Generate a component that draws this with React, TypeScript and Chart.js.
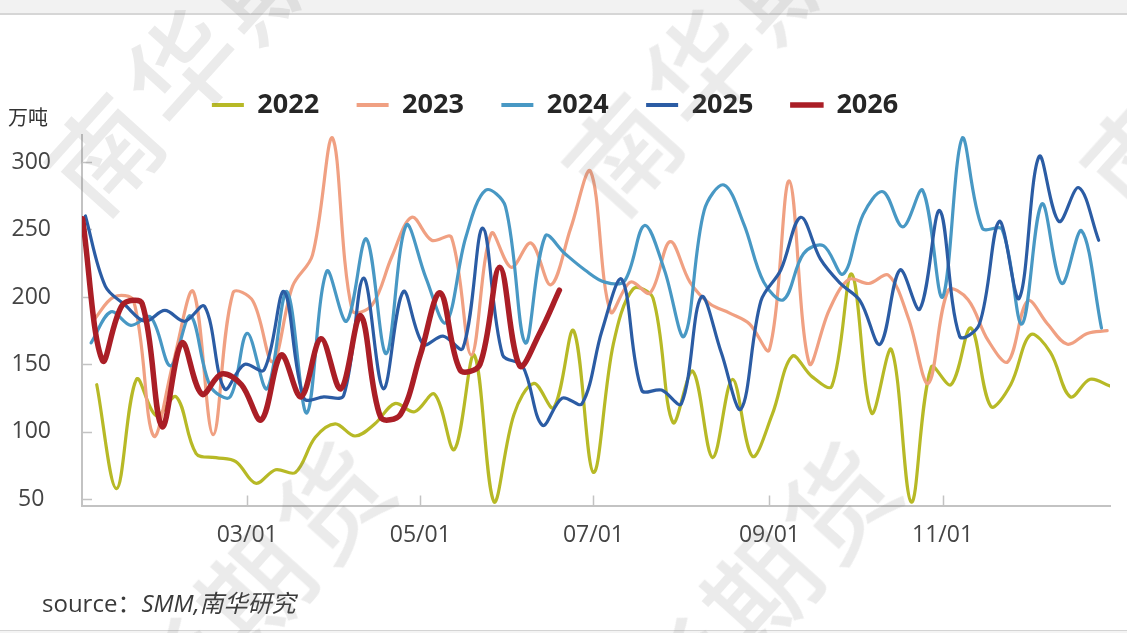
import { useEffect, useRef } from 'react';
import { Chart, registerables } from 'chart.js';

Chart.register(...registerables);

// Weekly output, 万吨, one series per year (first reporting week of each year)
const years = ['2022', '2023', '2024', '2025', '2026'];
const firstWeek = ['2022-01-07', '2023-01-06', '2024-01-05', '2025-01-03', '2026-01-02'];
const colors = ['#B7B926', '#F0A082', '#4898C4', '#2B5CA4', '#AA1E26'];
const lineWidths = [3.2, 3.2, 3.2, 3.2, 5.5];

const v2022 = [135, 58, 139, 112, 126, 84, 81, 78, 62, 72, 70, 96, 106, 97, 106, 121, 115, 128, 87, 157, 48, 113, 136, 118, 175, 70, 165, 206, 199, 107, 145, 81, 139, 82, 113, 156, 141, 134, 217, 114, 161, 48, 148, 135, 177, 119, 135, 172, 159, 126, 139, 134];
const v2023 = [183, 200, 197, 97, 152, 204, 98, 203, 197, 152, 208, 231, 318, 190, 194, 230, 259, 242, 244, 157, 247, 222, 240, 209, 251, 293, 189, 211, 203, 241, 211, 195, 188, 180, 161, 286, 151, 190, 213, 210, 216, 184, 136, 205, 198, 168, 152, 197, 180, 165, 173, 175];
const v2024 = [166, 189, 179, 185, 149, 186, 134, 126, 173, 132, 204, 114, 219, 182, 243, 158, 253, 214, 181, 244, 279, 267, 166, 245, 232, 220, 211, 212, 253, 220, 171, 264, 283, 254, 211, 198, 232, 238, 217, 261, 278, 252, 279, 200, 318, 251, 250, 180, 269, 210, 249, 177];
const v2025 = [260, 208, 194, 182, 190, 182, 193, 132, 150, 146, 204, 125, 126, 127, 214, 132, 204, 165, 171, 162, 251, 157, 149, 105, 125, 121, 175, 213, 131, 131, 121, 200, 159, 117, 197, 220, 259, 228, 210, 197, 165, 220, 191, 264, 171, 180, 256, 199, 304, 256, 281, 242];
const v2026 = [258, 153, 194, 195, 104, 166, 128, 143, 135, 109, 157, 126, 169, 132, 186, 111, 113, 157, 203, 146, 150, 222, 149, 173, 205];
const seriesValues = [v2022, v2023, v2024, v2025, v2026];

const tickLabels = ['03/01', '05/01', '07/01', '09/01', '11/01'];
const yTicks = [50, 100, 150, 200, 250, 300];

const watermarks = [
  { left: 64, top: 136 },
  { left: 582, top: 136 },
  { left: 1100, top: 136 },
  { left: 60, top: 744 },
  { left: 566, top: 744 },
];

// Month/day mapped onto a common non-leap calendar so every year shares one axis
const monthStart = [0, 31, 59, 90, 120, 151, 181, 212, 243, 273, 304, 334];
const calendarDay = (month: number, day: number) => monthStart[month - 1] + day;

function weeklyDays(start: string, count: number): number[] {
  const [y, m, d] = start.split('-').map(Number);
  const out: number[] = [];
  for (let i = 0; i < count; i++) {
    const dt = new Date(y, m - 1, d + 7 * i);
    out.push(calendarDay(dt.getMonth() + 1, dt.getDate()));
  }
  return out;
}

const tickDays = tickLabels.map((s) => {
  const [m, d] = s.split('/').map(Number);
  return calendarDay(m, d);
});

const textFont = "'Open Sans', 'Noto Sans', sans-serif";
const axisColor = '#c3c3c3';

const inwardTicks = {
  id: 'inwardTicks',
  beforeDatasetsDraw(chart: any) {
    const { ctx, chartArea, scales } = chart;
    ctx.save();
    ctx.strokeStyle = axisColor;
    ctx.lineWidth = 1.5;
    scales.y.ticks.forEach((t: any) => {
      const py = Math.round(scales.y.getPixelForValue(t.value)) + 0.5;
      ctx.beginPath();
      ctx.moveTo(chartArea.left, py);
      ctx.lineTo(chartArea.left + 10, py);
      ctx.stroke();
    });
    scales.x.ticks.forEach((t: any) => {
      const px = Math.round(scales.x.getPixelForValue(t.value)) + 0.5;
      ctx.beginPath();
      ctx.moveTo(px, chartArea.bottom);
      ctx.lineTo(px, chartArea.bottom - 10);
      ctx.stroke();
    });
    ctx.restore();
  },
};

const legendGap = {
  id: 'legendGap',
  beforeLayout(chart: any) {
    const lg = chart.legend;
    if (lg && !lg._gapPatched) {
      const fit = lg.fit.bind(lg);
      lg.fit = function () {
        fit();
        this.height += 6.5;
      };
      lg._gapPatched = true;
    }
  },
};

export default function App() {
  const canvasRef = useRef<HTMLCanvasElement>(null);

  useEffect(() => {
    if (!canvasRef.current) return;
    const datasets = years.map((year, i) => {
      const days = weeklyDays(firstWeek[i], seriesValues[i].length);
      return {
        label: year,
        data: seriesValues[i].map((v, k) => ({ x: days[k], y: v })),
        borderColor: colors[i],
        backgroundColor: colors[i],
        borderWidth: lineWidths[i],
        pointRadius: 0,
        pointHoverRadius: 0,
        tension: 0.35,
        fill: false,
        borderCapStyle: 'round' as const,
        borderJoinStyle: 'round' as const,
        order: years.length - i,
      };
    });

    const chart = new Chart(canvasRef.current, {
      type: 'line',
      data: { datasets },
      plugins: [inwardTicks, legendGap],
      options: {
        animation: false,
        responsive: false,
        maintainAspectRatio: false,
        layout: { padding: { top: 54, left: 0, right: 17, bottom: 67.5 } },
        plugins: {
          legend: {
            display: true,
            position: 'top',
            align: 'center',
            labels: {
              boxWidth: 32,
              boxHeight: 4,
              padding: 37.5,
              color: '#262626',
              font: { family: textFont, size: 27, weight: 'bold' },
              generateLabels: (c: any) =>
                c.data.datasets.map((ds: any, i: number) => ({
                  text: ds.label,
                  fillStyle: ds.borderColor,
                  strokeStyle: ds.borderColor,
                  lineWidth: i === 4 ? 1.5 : 0,
                  hidden: false,
                  datasetIndex: i,
                  fontColor: '#262626',
                })),
            },
          },
          tooltip: { enabled: false },
        },
        scales: {
          x: {
            type: 'linear',
            min: 1.8,
            max: 364,
            afterBuildTicks: (s: any) => {
              s.ticks = tickDays.map((v) => ({ value: v }));
            },
            afterFit: (s: any) => {
              s.height = 60;
            },
            grid: { display: false, drawTicks: false },
            border: { display: true, color: axisColor, width: 2 },
            ticks: {
              autoSkip: false,
              maxRotation: 0,
              padding: 16,
              color: '#444',
              font: { family: textFont, size: 23 },
              callback: (_v: any, idx: number) => tickLabels[idx],
            },
          },
          y: {
            type: 'linear',
            min: 45.5,
            max: 320,
            afterBuildTicks: (s: any) => {
              s.ticks = yTicks.map((v) => ({ value: v }));
            },
            afterFit: (s: any) => {
              s.width = 82;
            },
            grid: { display: false, drawTicks: false },
            border: { display: true, color: axisColor, width: 2 },
            ticks: {
              crossAlign: 'center',
              padding: 31,
              color: '#444',
              font: { family: textFont, size: 23 },
              callback: (v: any) => String(v),
            },
          },
        },
      },
    } as any);

    return () => chart.destroy();
  }, []);

  return (
    <div
      style={{
        position: 'fixed',
        left: 0,
        top: 0,
        width: 1127,
        height: 633,
        overflow: 'hidden',
        background: '#ffffff',
      }}
    >
      <div
        style={{
          position: 'absolute',
          left: 0,
          top: 0,
          width: 1127,
          height: 13,
          background: '#f2f2f2',
          borderBottom: '2px solid #d6d6d6',
        }}
      />
      <canvas
        ref={canvasRef}
        width={1127}
        height={633}
        style={{ position: 'absolute', left: 0, top: 0, width: 1127, height: 633 }}
      />
      <div
        style={{
          position: 'absolute',
          left: 8,
          top: 104,
          fontFamily: "'Noto Sans CJK SC', sans-serif",
          fontSize: 20,
          color: '#333',
          lineHeight: '26px',
          whiteSpace: 'nowrap',
        }}
      >
        万吨
      </div>
      <div
        style={{
          position: 'absolute',
          left: 42,
          top: 587,
          fontFamily: "'Open Sans', 'Noto Sans CJK SC', sans-serif",
          fontSize: 24,
          color: '#3a3a3a',
          lineHeight: '32px',
          whiteSpace: 'nowrap',
        }}
      >
        source：<span style={{ fontStyle: 'italic' }}>SMM,南华研究</span>
      </div>
      <div
        style={{
          position: 'absolute',
          left: 0,
          top: 630,
          width: 1127,
          height: 3,
          background: '#f4f4f4',
          borderTop: '1px solid #d4d4d4',
        }}
      />
      {watermarks.map((w, i) => (
        <div
          key={i}
          style={{
            position: 'absolute',
            left: w.left,
            top: w.top,
            fontFamily: "'Noto Sans CJK SC', sans-serif",
            fontWeight: 500,
            fontSize: 108,
            lineHeight: '108px',
            letterSpacing: 8,
            whiteSpace: 'nowrap',
            color: 'rgba(110,110,110,0.14)',
            transformOrigin: '0 50%',
            transform: 'rotate(-48deg)',
            pointerEvents: 'none',
          }}
        >
          南华期货
        </div>
      ))}
    </div>
  );
}
